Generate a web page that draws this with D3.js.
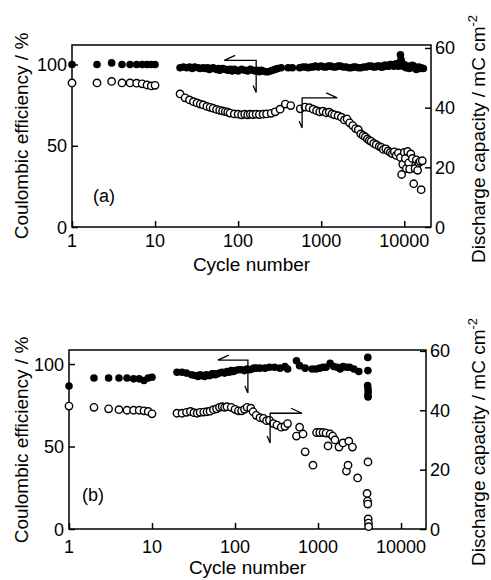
<!DOCTYPE html>
<html>
<head>
<meta charset="utf-8">
<script src="https://cdn.jsdelivr.net/npm/d3@7"></script>
<style>
  body { margin: 0; background: #fff; }
  svg { display: block; }
  text { font-family: Arial, "Liberation Sans", sans-serif; fill: #000; }
</style>
</head>
<body>
<div id="chart"></div>
<script>
const W = 491;
const H = 580;

// tick labels
const xTicks = [1, 10, 100, 1000, 10000];
const leftTicks = [0, 50, 100];
const rightTicks = [0, 20, 40, 60];

// panel (a): coulombic efficiency, % [cycle, value]
const effA = [
  [1, 100], [2, 100], [3, 101], [4, 100], [5, 100], [6, 100], [7, 100], [8, 100], [9, 100], [10, 100],
  [20, 98], [22, 98.5], [24, 98], [26, 98.5], [28, 97.5], [30, 98.5], [33, 98], [35, 97.5], [38, 98],
  [40, 97.5], [43, 98], [45, 97], [48, 97.5], [50, 98], [55, 97], [58, 97.5], [60, 96.5], [65, 97.5],
  [70, 97], [75, 96.5], [80, 97], [85, 96], [90, 97], [95, 96.5], [100, 96], [110, 97], [120, 96.5],
  [130, 96], [140, 97], [150, 96.5], [160, 96], [170, 96.5], [180, 95.5], [190, 96.5], [200, 96],
  [215, 95.5], [230, 95.5], [245, 96], [260, 96.5], [280, 97], [300, 97.5], [330, 98], [400, 98],
  [450, 98], [550, 98], [600, 98.5], [650, 98.5], [700, 98], [750, 98.5], [800, 98.5], [850, 99],
  [920, 98.5], [1000, 99], [1080, 98.5], [1150, 98.5], [1220, 99], [1300, 99], [1400, 98.5],
  [1500, 98.5], [1600, 99], [1700, 99], [1850, 98.5], [2000, 98.5], [2150, 98], [2300, 98],
  [2450, 98.5], [2600, 98.5], [2800, 98], [3000, 98], [3250, 98.5], [3500, 98.5], [3750, 99],
  [4000, 99], [4250, 98.5], [4500, 98.5], [4750, 99], [5000, 99], [5250, 98.5], [5500, 98.5],
  [5750, 99.5], [6000, 99.5], [6250, 99], [6500, 99], [6750, 100], [7000, 100], [7250, 99.5],
  [7500, 99], [7750, 100], [8000, 100.5], [8250, 100], [8500, 99], [8750, 101], [9000, 106],
  [9150, 103], [9300, 101], [9600, 99], [10000, 100], [10500, 98], [11000, 99], [11500, 97.5],
  [12000, 98], [12500, 99.5], [13000, 99], [13500, 98], [14000, 97], [14500, 98], [15000, 98.5],
  [15500, 97.5], [16000, 98], [17000, 97.5]
];

// panel (a): discharge capacity, mC cm-2 [cycle, value]
const capA = [
  [1, 48.3], [2, 48.3], [3, 48.8], [4, 48.3], [5, 48.3], [6, 48.2], [7, 48], [8, 47.6], [9, 47.3], [10, 47.5],
  [20, 44.6], [23, 43.3], [26, 42.6], [29, 42], [32, 41.6], [35, 41.2], [38, 40.9], [42, 40.4],
  [46, 40.1], [50, 39.8], [55, 39.4], [60, 39.1], [65, 38.9], [70, 38.7], [75, 38.5], [80, 38.2],
  [90, 37.9], [100, 37.8], [110, 37.6], [120, 37.8], [130, 37.6], [140, 37.8], [150, 37.7],
  [165, 37.8], [180, 37.7], [200, 37.8], [220, 37.9], [250, 38.1], [280, 38.6], [320, 39.5],
  [370, 41.2], [430, 40.7], [560, 39.6], [640, 40.2], [720, 40], [800, 39.5], [880, 39],
  [960, 38.6], [1050, 38.8], [1150, 38.3], [1250, 38.5], [1350, 37.9], [1450, 37.6], [1600, 37.3],
  [1750, 36.8], [1900, 35.9], [2050, 36.2], [2200, 34.9], [2400, 34], [2600, 33], [2800, 32.6],
  [3000, 31.2], [3200, 30.7], [3400, 30.2], [3600, 29.5], [3800, 29], [4000, 28.7], [4300, 28],
  [4600, 27.6], [5000, 27], [5300, 26.7], [5600, 26], [6000, 26.2], [6400, 25.5], [6800, 25],
  [7200, 24.6], [7600, 25.2], [8000, 24], [8500, 24.8], [9000, 23.3], [9300, 17.6], [9600, 21],
  [10000, 25], [10300, 23], [10600, 19.6], [11000, 25.3], [11300, 21.5], [11600, 19.4],
  [12000, 24.5], [12500, 23], [13000, 14.5], [13500, 19.6], [14000, 22.5], [14500, 19],
  [15000, 21.5], [15500, 22], [16000, 12.5], [16500, 22.2]
];

// panel (b): coulombic efficiency, %
const effB = [
  [1, 86.7], [2, 91.5], [3, 91.5], [4, 91.5], [5, 91.5], [6, 91], [7, 91], [8, 90], [9, 91.5], [10, 92],
  [20, 95], [23, 95], [26, 94.5], [30, 93.5], [33, 93], [36, 92.5], [38, 93.5], [40, 93], [43, 92.5],
  [45, 93.5], [48, 93], [50, 93], [53, 94], [55, 94], [58, 93.5], [60, 94], [65, 94.5], [70, 95],
  [75, 94.5], [80, 95.5], [85, 95], [90, 96], [95, 95.5], [100, 96], [110, 96.5], [120, 96.5],
  [130, 96], [140, 97], [150, 96.5], [160, 97], [170, 97.5], [180, 97.5], [200, 97.5], [230, 97.5],
  [260, 98], [300, 98], [350, 97.5], [400, 98.5], [430, 97], [550, 102], [600, 99], [700, 97.5],
  [850, 97], [950, 97], [1050, 97.5], [1150, 98], [1250, 98], [1400, 100.5], [1550, 98.5],
  [1700, 98], [1850, 97], [2000, 98.5], [2200, 98], [2400, 98], [2700, 97], [3100, 95.5],
  [3980, 104], [3990, 96], [3960, 87], [4000, 85], [4020, 83], [3990, 81], [4010, 80]
];

// panel (b): discharge capacity, mC cm-2
const capB = [
  [1, 41.4], [2, 41], [3, 40.5], [4, 40.2], [5, 40], [6, 40], [7, 40], [8, 39.8], [9, 39.6], [10, 38.8],
  [20, 39], [23, 39], [26, 39.3], [29, 39.6], [32, 39.2], [35, 39], [38, 39.3], [42, 39.4],
  [46, 39.5], [50, 39.7], [55, 40.2], [60, 40.5], [65, 41], [70, 41.2], [75, 41], [80, 41.2],
  [90, 41], [100, 40.3], [110, 39.8], [120, 39.8], [130, 40.3], [140, 41], [155, 40.7],
  [165, 39.5], [180, 38.3], [200, 37.5], [220, 37.3], [240, 36.5], [260, 36.6], [290, 35.5],
  [320, 35], [360, 34.3], [400, 34.6], [430, 35.5], [550, 31.3], [600, 34.3], [660, 32],
  [700, 26], [870, 21.5], [960, 32.5], [1050, 32.5], [1150, 32.5], [1250, 32.3], [1320, 28],
  [1400, 32], [1500, 31.3], [1600, 30], [1790, 27.6], [2000, 29], [2200, 19.5], [2300, 21.5],
  [2350, 29.6], [2600, 27.6], [3000, 17.2],
  [3900, 12], [3950, 9.4], [3980, 8.4], [4000, 22.6], [4020, 3.4], [4050, 2], [4070, 0.8]
];

// annotation arrows, in data units of the axis each one points to
const arrowsA = [
  { side: 'left', xFrom: 165, xTo: 68, yTop: 102.5, yBottom: 82.8 },
  { side: 'right', xFrom: 590, xTo: 1560, yTop: 43.3, yBottom: 33.2 }
];
const arrowsB = [
  { side: 'left', xFrom: 143, xTo: 62, yTop: 102.4, yBottom: 82.4 },
  { side: 'right', xFrom: 265, xTo: 641, yTop: 39, yBottom: 29 }
];

const panels = [
  {
    label: '(a)', eff: effA, cap: capA, arrows: arrowsA,
    left: 72, right: 431, top: 45, bottom: 227,
    xMax: 21000, leftMax: 112, rightMax: 61,
    tag: [93, 202], tickBase: 247, titleBase: 271, yCenter: 136, rCenter: 139
  },
  {
    label: '(b)', eff: effB, cap: capB, arrows: arrowsB,
    left: 69, right: 426, top: 350, bottom: 529,
    xMax: 20000, leftMax: 108.5, rightMax: 60.3,
    tag: [82, 501], tickBase: 553, titleBase: 574, yCenter: 440, rCenter: 442
  }
];

const svg = d3.select('#chart')
  .append('svg')
  .attr('width', W)
  .attr('height', H);

panels.forEach(drawPanel);

function drawPanel(p) {
  const g = svg.append('g');

  const x = d3.scaleLog().domain([1, p.xMax]).range([p.left, p.right]);
  const yL = d3.scaleLinear().domain([0, p.leftMax]).range([p.bottom, p.top]);
  const yR = d3.scaleLinear().domain([0, p.rightMax]).range([p.bottom, p.top]);

  // ticks point inward
  g.append('g')
    .attr('transform', `translate(0,${p.bottom})`)
    .call(d3.axisTop(x).tickValues(xTicks).tickSize(6).tickFormat(''))
    .call(a => a.select('.domain').remove());
  g.append('g')
    .attr('transform', `translate(${p.left},0)`)
    .call(d3.axisRight(yL).tickValues(leftTicks).tickSize(6).tickFormat(''))
    .call(a => a.select('.domain').remove());
  g.append('g')
    .attr('transform', `translate(${p.right},0)`)
    .call(d3.axisLeft(yR).tickValues(rightTicks).tickSize(6).tickFormat(''))
    .call(a => a.select('.domain').remove());
  g.selectAll('.tick line').attr('stroke', '#000').attr('stroke-width', 1.5);

  g.append('rect')
    .attr('x', p.left)
    .attr('y', p.top)
    .attr('width', p.right - p.left)
    .attr('height', p.bottom - p.top)
    .attr('fill', 'none')
    .attr('stroke', '#000')
    .attr('stroke-width', 1.5);

  // tick labels
  g.selectAll('.xl')
    .data(xTicks)
    .enter()
    .append('text')
    .attr('x', d => x(d))
    .attr('y', p.tickBase)
    .attr('text-anchor', 'middle')
    .attr('font-size', 18)
    .text(d => d);

  g.selectAll('.yl')
    .data(leftTicks)
    .enter()
    .append('text')
    .attr('x', p.left - 5)
    .attr('y', d => yL(d) + 6.5)
    .attr('text-anchor', 'end')
    .attr('font-size', 18)
    .text(d => d);

  g.selectAll('.yr')
    .data(rightTicks)
    .enter()
    .append('text')
    .attr('x', p.right + 4)
    .attr('y', d => yR(d) + 6.5)
    .attr('text-anchor', 'start')
    .attr('font-size', 18)
    .text(d => d);

  // axis titles
  g.append('text')
    .attr('x', (p.left + p.right) / 2)
    .attr('y', p.titleBase)
    .attr('text-anchor', 'middle')
    .attr('font-size', 19)
    .text('Cycle number');

  g.append('text')
    .attr('transform', `translate(28,${p.yCenter}) rotate(-90)`)
    .attr('text-anchor', 'middle')
    .attr('font-size', 19)
    .text('Coulombic efficiency / %');

  const rt = g.append('text')
    .attr('transform', `translate(485,${p.rCenter}) rotate(-90)`)
    .attr('text-anchor', 'middle')
    .attr('font-size', 19);
  rt.append('tspan').text('Discharge capacity / mC cm');
  rt.append('tspan').attr('dy', -8).attr('font-size', 13).text('-2');

  g.append('text')
    .attr('x', p.tag[0])
    .attr('y', p.tag[1])
    .attr('font-size', 18)
    .text(p.label);

  // data
  g.selectAll('.cap')
    .data(p.cap)
    .enter()
    .append('circle')
    .attr('cx', d => x(d[0]))
    .attr('cy', d => yR(d[1]))
    .attr('r', 3.7)
    .attr('fill', '#fff')
    .attr('stroke', '#000')
    .attr('stroke-width', 1.4);

  g.selectAll('.eff')
    .data(p.eff)
    .enter()
    .append('circle')
    .attr('cx', d => x(d[0]))
    .attr('cy', d => yL(d[1]))
    .attr('r', 3.8)
    .attr('fill', '#000');

  // arrows pointing to their axes
  p.arrows.forEach(a => {
    const ys = a.side === 'left' ? yL : yR;
    const xc = x(a.xFrom), xt = x(a.xTo);
    const yt = ys(a.yTop), yb = ys(a.yBottom);
    const dir = a.side === 'left' ? 1 : -1;
    const path = d3.path();
    path.moveTo(xc, yb);
    path.lineTo(xc, yt);
    path.lineTo(xt, yt);
    path.moveTo(xt, yt);
    path.lineTo(xt + dir * 11, yt - 5);
    path.moveTo(xc, yb);
    path.lineTo(xc - 3, yb - 7);
    g.append('path')
      .attr('d', path.toString())
      .attr('fill', 'none')
      .attr('stroke', '#000')
      .attr('stroke-width', 1.3);
  });
}
</script>
</body>
</html>
